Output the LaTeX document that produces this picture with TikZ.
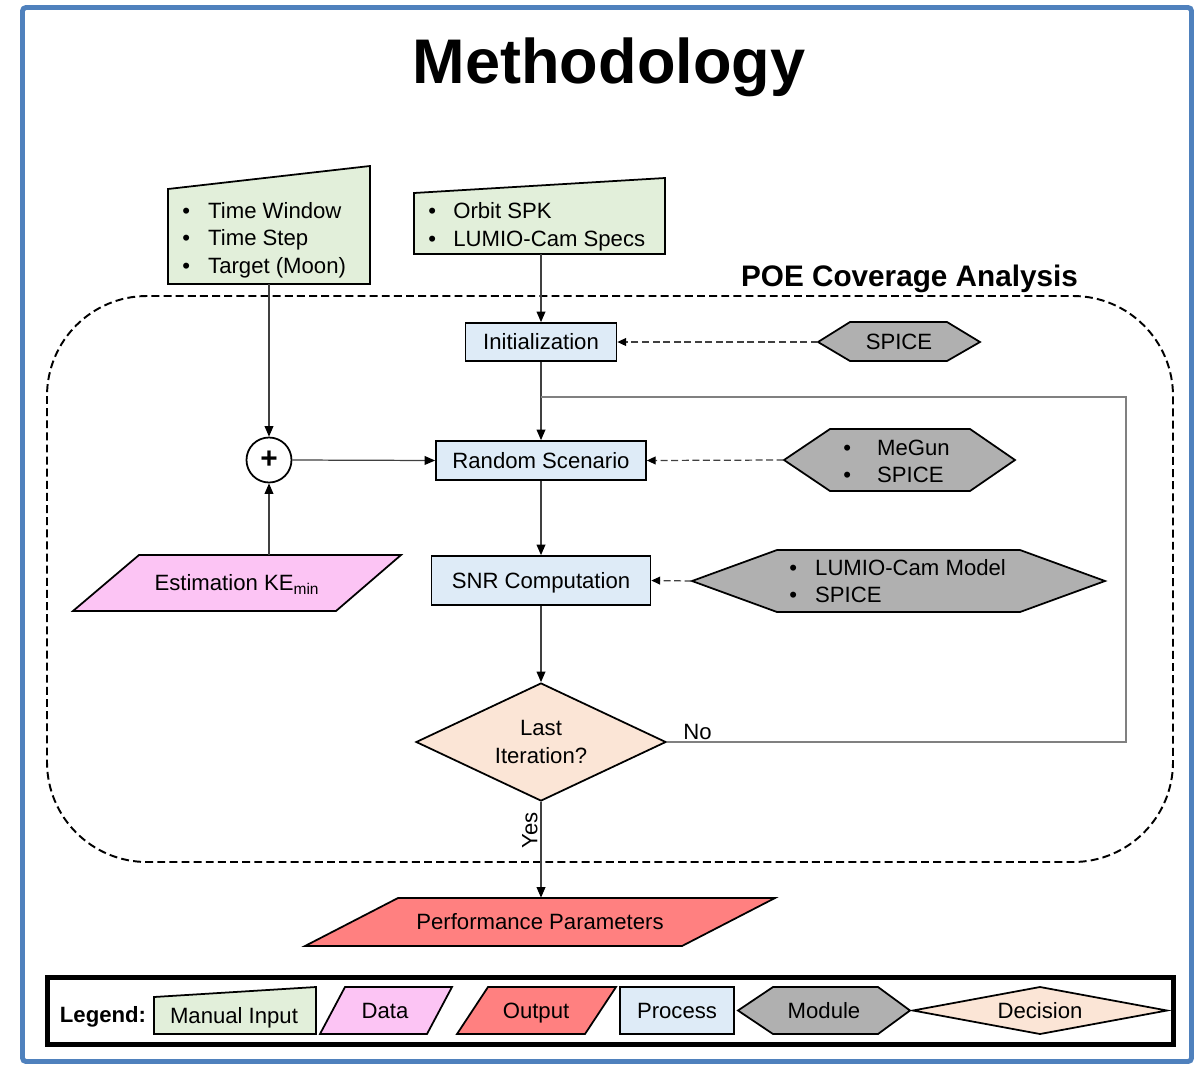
\documentclass[tikz,border=0pt]{standalone}
\usepackage{fontspec}
\setmainfont{Liberation Sans}
\usetikzlibrary{arrows.meta,shapes.geometric}

\definecolor{frameblue}{RGB}{79,129,189}
\definecolor{inputgreen}{RGB}{226,239,218}
\definecolor{procblue}{RGB}{222,235,247}
\definecolor{modgray}{RGB}{176,176,176}
\definecolor{datapink}{RGB}{252,196,244}
\definecolor{outred}{RGB}{255,128,128}
\definecolor{decpeach}{RGB}{251,229,214}
\definecolor{linegray}{RGB}{64,64,64}
\definecolor{loopgray}{RGB}{128,128,128}

\def\PX{0.02cm}
\newcommand\bodyfont{\fontsize{12.6pt}{15.6pt}\selectfont}
\newcommand\blist[2]{\begin{tabular}{@{}l@{\hspace{#1}}l@{}}#2\end{tabular}}

\begin{document}
\begin{tikzpicture}[x=0.02cm,y=-0.02cm,font=\bodyfont,
  shapeline/.style={draw=black,line width=1pt,line join=miter},
  inputshape/.style={shapeline,fill=inputgreen},
  datashape/.style={shapeline,fill=datapink},
  outshape/.style={shapeline,fill=outred},
  modshape/.style={shapeline,fill=modgray},
  area/.style 2 args={rectangle,inner sep=0pt,minimum width=#1*\PX,minimum height=#2*\PX},
  lbl/.style={inner sep=0pt,text height=0.9em,text depth=0pt},
  proc/.style={rectangle,draw=black,line width=1pt,fill=procblue,text height=0.9em,text depth=0pt},
  decide/.style={diamond,draw=black,line width=1pt,fill=decpeach,inner sep=0pt,align=center},
  listtext/.style={inner sep=0pt,anchor=west},
  conn/.style={draw=linegray,line width=0.7pt,-{Triangle[length=6pt,width=5pt,color=black]}},
  dconn/.style={draw=linegray,line width=0.7pt,dash pattern=on 4pt off 2pt,-{Triangle[length=5pt,width=4.5pt,color=black]}},
  loopline/.style={draw=loopgray,line width=0.7pt}
]
\useasboundingbox (0,0) rectangle (1196,1065);
\fill[white] (0,0) rectangle (1196,1065);

% outer frame and title
\draw[frameblue,line width=2.8pt,rounded corners=2pt] (22.5,7.5) rectangle (1191.5,1061.5);
\node[inner sep=0pt,anchor=base,font=\fontsize{35.9pt}{40pt}\selectfont\bfseries] (title) at (609,83) {Methodology};

% analysis region
\draw[line width=1.1pt,dash pattern=on 4.5pt off 2.4pt,rounded corners=100*\PX] (47,296) rectangle (1173,862);
\node[inner sep=0pt,anchor=base,font=\fontsize{16.9pt}{20pt}\selectfont\bfseries] (poe) at (909.5,286) {POE Coverage Analysis};

% manual inputs
\draw[inputshape] (168,284) -- (168,189) -- (370,166) -- (370,284) -- cycle;
\node[area={202}{118}] (in1) at (269,225) {};
\node[listtext] (in1txt) at (182,240.5) {\blist{10.3pt}{\textbullet & Time Window\\ \textbullet & Time Step\\ \textbullet & Target (Moon)}};

\draw[inputshape] (414,254) -- (414,193) -- (665,178) -- (665,254) -- cycle;
\node[area={251}{76}] (in2) at (539.5,216) {};
\node[listtext] (in2txt) at (428,227) {\blist{9.8pt}{\textbullet & Orbit SPK\\ \textbullet & LUMIO-Cam Specs}};

% processes
\node[proc,area={151}{38}] (init) at (541,342) {Initialization};
\node[proc,area={210}{39}] (rand) at (541,460.5) {Random Scenario};
\node[proc,area={219}{49}] (snr) at (541,580.5) {SNR Computation};
\node[decide,aspect=2.1186,minimum width=250*\PX,minimum height=118*\PX] (dec) at (541,742) {Last\\Iteration?};

% modules
\draw[modshape] (818,342) -- (850,322) -- (947,322) -- (980,342) -- (947,361) -- (850,361) -- cycle;
\node[lbl,area={162}{39}] (spice) at (899,342) {SPICE};

\draw[modshape] (784,460) -- (830,429) -- (970,429) -- (1015,460) -- (970,491) -- (830,491) -- cycle;
\node[area={231}{62}] (megun) at (899.5,460) {};
\node[listtext] (megtxt) at (843,463.5) {\blist{14.8pt}{\textbullet & MeGun\\ \textbullet & SPICE}};

\draw[modshape] (692,581) -- (777,550) -- (1020,550) -- (1105,581) -- (1020,612) -- (777,612) -- cycle;
\node[area={413}{62}] (cam) at (898.5,581) {};
\node[listtext] (camtxt) at (789,583.5) {\blist{10.3pt}{\textbullet & LUMIO-Cam Model\\ \textbullet & SPICE}};

% summing junction and data input
\node[circle,draw=black,line width=1pt,fill=white,minimum size=45*\PX,inner sep=0pt,font=\fontsize{17pt}{17pt}\selectfont\bfseries] (plus) at (269,460) {+};
\draw[datashape] (73,611) -- (139,555) -- (401,555) -- (336,611) -- cycle;
\node[lbl,area={328}{56}] (est) at (237,583) {Estimation KE\textsubscript{min}};

% output
\draw[outshape] (305,946) -- (398,898) -- (775,898) -- (682,946) -- cycle;
\node[lbl,area={470}{48}] (out) at (540,922) {Performance Parameters};

% connectors
\draw[conn] (in1.south) -- (plus.north);
\draw[conn] (plus |- est.north) -- (plus.south);
\draw[conn] (plus.east) -- (rand.west);
\draw[conn] (init.north |- in2.south) -- (init.north);
\draw[conn] (init.south) -- (rand.north);
\draw[conn] (rand.south) -- (snr.north);
\draw[conn] (snr.south) -- (dec.north);
\draw[conn] (dec.south) -- (dec.south |- out.north);
\node[lbl,rotate=90] (yes) at (529.5,830) {Yes};

\draw[dconn] (spice.west) -- (init.east);
\draw[dconn] (megun.west) -- (rand.east);
\draw[dconn] (cam.west) -- (snr.east);

\coordinate (loopA) at (1126,742);
\coordinate (loopB) at (1126,397);
\draw[loopline] (dec.east) -- (loopA) -- (loopB) -- (loopB -| init.south);
\node[lbl] (no) at (697.5,732) {No};

% legend
\draw[line width=2.7pt] (47.5,977.5) rectangle (1173.5,1044.5);
\node[lbl,font=\bodyfont\bfseries] (legtitle) at (103,1014.5) {Legend:};
\draw[inputshape] (154,1034) -- (154,997) -- (316,987) -- (316,1034) -- cycle;
\node[lbl] (legin) at (234,1015.5) {Manual Input};
\draw[datashape] (320,1034) -- (345,987) -- (452,987) -- (427,1034) -- cycle;
\node[lbl] (legdata) at (385,1011) {Data};
\draw[outshape] (457,1034) -- (488,987) -- (616,987) -- (585,1034) -- cycle;
\node[lbl] (legout) at (536,1011) {Output};
\node[proc,area={114}{47}] (legproc) at (677,1010.5) {Process};
\draw[modshape] (738,1010.5) -- (773,987) -- (878,987) -- (910,1010.5) -- (878,1034) -- (773,1034) -- cycle;
\node[lbl] (legmod) at (824,1011) {Module};
\draw[shapeline,fill=decpeach] (913,1010.5) -- (1040,987) -- (1167,1010.5) -- (1040,1034) -- cycle;
\node[lbl] (legdec) at (1040,1011) {Decision};
\end{tikzpicture}
\end{document}
